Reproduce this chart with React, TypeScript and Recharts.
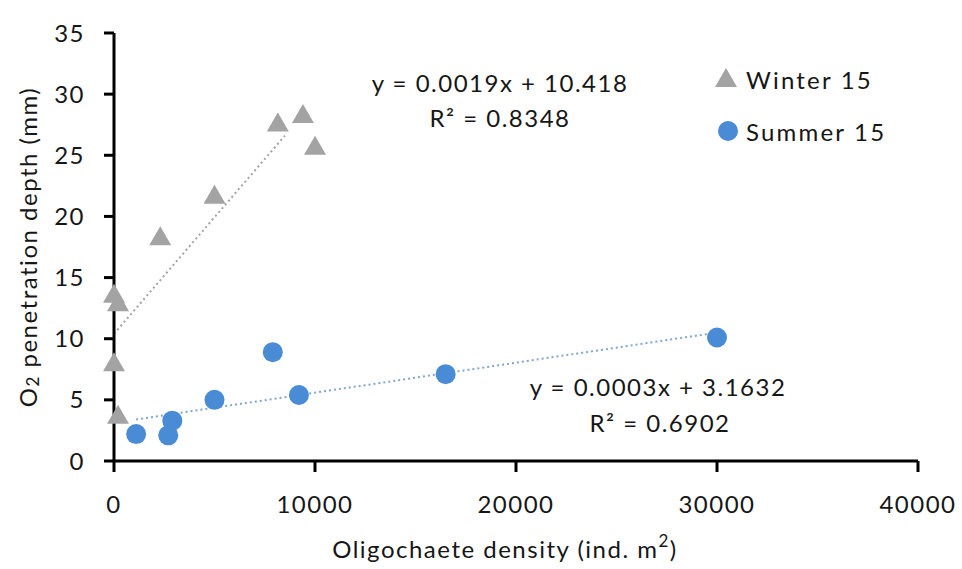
import React from 'react';
import { ScatterChart, Scatter, XAxis, YAxis, ReferenceLine } from 'recharts';

// Oligochaete density (ind. m-2) vs O2 penetration depth (mm)
const winterDensity = [0, 200, 0, 200, 2300, 5000, 8150, 9400, 10000];
const winterDepth = [13.6, 12.9, 8.0, 3.7, 18.3, 21.7, 27.6, 28.3, 25.7];
const summerDensity = [1100, 2700, 2900, 5000, 7900, 9200, 16500, 30000];
const summerDepth = [2.2, 2.1, 3.3, 5.0, 8.9, 5.4, 7.1, 10.1];

// linear trend end points
const winterTrendX = [0, 8500];
const winterTrendY = [10.4, 26.6];
const summerTrendX = [1100, 30000];
const summerTrendY = [3.4, 10.5];

const xTicks = [0, 10000, 20000, 30000, 40000];
const yTicks = [0, 5, 10, 15, 20, 25, 30, 35];

const GREY = '#a3a3a3';
const BLUE = '#4a8bd6';
const FONT = 'Lato, "Open Sans", sans-serif';
const INK = '#161616';

const winterData = winterDensity.map((x, i) => ({ x, y: winterDepth[i] }));
const summerData = summerDensity.map((x, i) => ({ x, y: summerDepth[i] }));

const Triangle = (props: any) => {
  const { cx, cy } = props;
  return <polygon points={`${cx},${cy - 11} ${cx + 11},${cy + 8} ${cx - 11},${cy + 8}`} fill={GREY} />;
};

const Dot = (props: any) => {
  const { cx, cy } = props;
  return <circle cx={cx} cy={cy} r={10} fill={BLUE} />;
};

const textStyle: React.CSSProperties = { fontFamily: FONT, fontSize: 24, fill: INK, letterSpacing: 1.5 };

export default function App() {
  return (
    <div style={{ position: 'absolute', left: 0, top: 0, width: 962, height: 569, background: '#fff' }}>
      <ScatterChart width={962} height={569} margin={{ top: 33, right: 44, bottom: 0, left: 0 }}>
        <XAxis
          type="number"
          dataKey="x"
          domain={[0, 40000]}
          ticks={xTicks}
          height={108}
          tickSize={11}
          tickMargin={24}
          axisLine={{ stroke: '#000', strokeWidth: 3 }}
          tickLine={{ stroke: '#000', strokeWidth: 3 }}
          tick={{ fill: INK, fontSize: 24, fontFamily: FONT, letterSpacing: 1.5 }}
        />
        <YAxis
          type="number"
          dataKey="y"
          domain={[0, 35]}
          ticks={yTicks}
          width={114}
          tickSize={10}
          tickMargin={19}
          axisLine={{ stroke: '#000', strokeWidth: 3 }}
          tickLine={{ stroke: '#000', strokeWidth: 3 }}
          tick={{ fill: INK, fontSize: 24, fontFamily: FONT, letterSpacing: 1.5 }}
        />
        <ReferenceLine
          segment={[
            { x: winterTrendX[0], y: winterTrendY[0] },
            { x: winterTrendX[1], y: winterTrendY[1] },
          ]}
          stroke={GREY}
          strokeWidth={2}
          strokeDasharray="2 3"
        />
        <ReferenceLine
          segment={[
            { x: summerTrendX[0], y: summerTrendY[0] },
            { x: summerTrendX[1], y: summerTrendY[1] },
          ]}
          stroke="#7fa6cf"
          strokeWidth={2}
          strokeDasharray="2 3"
        />
        <Scatter name="Winter 15" data={winterData} shape={Triangle} isAnimationActive={false} />
        <Scatter name="Summer 15" data={summerData} shape={Dot} isAnimationActive={false} />
      </ScatterChart>

      <svg width={962} height={569} style={{ position: 'absolute', left: 0, top: 0, pointerEvents: 'none' }}>
        {/* axis titles */}
        <text
          transform="translate(27,247) rotate(-90)"
          textAnchor="middle"
          dominantBaseline="central"
          style={textStyle}
        >
          O<tspan fontSize={17} dy={5}>2</tspan>
          <tspan dy={-5}> penetration depth (mm)</tspan>
        </text>
        <text x={505} y={548} textAnchor="middle" dominantBaseline="central" style={textStyle}>
          Oligochaete density (ind. m<tspan fontSize={17} dy={-8}>2</tspan>
          <tspan dy={8}>)</tspan>
        </text>

        {/* trend equations */}
        <text x={500} y={82} textAnchor="middle" dominantBaseline="central" style={textStyle}>
          y = 0.0019x + 10.418
        </text>
        <text x={500} y={117} textAnchor="middle" dominantBaseline="central" style={textStyle}>
          R² = 0.8348
        </text>
        <text x={658} y={386} textAnchor="middle" dominantBaseline="central" style={textStyle}>
          y = 0.0003x + 3.1632
        </text>
        <text x={660} y={422} textAnchor="middle" dominantBaseline="central" style={textStyle}>
          R² = 0.6902
        </text>

        {/* legend */}
        <polygon points="726,68 737,87 715,87" fill={GREY} />
        <text x={746} y={79} dominantBaseline="central" style={{ ...textStyle, letterSpacing: 2.2 }}>
          Winter 15
        </text>
        <circle cx={728} cy={131} r={10} fill={BLUE} />
        <text x={746} y={131} dominantBaseline="central" style={{ ...textStyle, letterSpacing: 2.2 }}>
          Summer 15
        </text>
      </svg>
    </div>
  );
}
